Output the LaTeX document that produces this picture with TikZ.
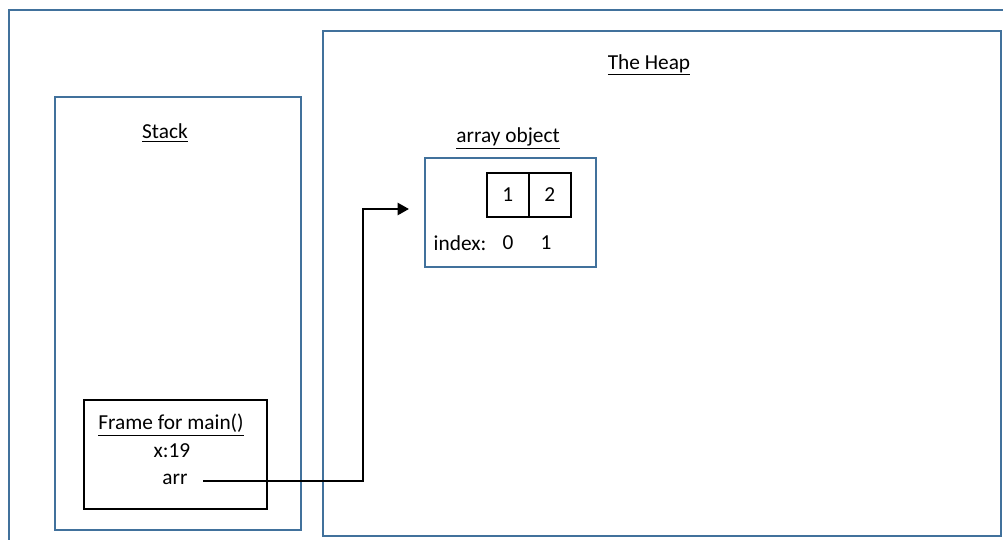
\documentclass[tikz,border=0pt]{standalone}
\usepackage{fontspec}
\setmainfont{Carlito}
\usetikzlibrary{arrows.meta}
\definecolor{boxblue}{RGB}{65,113,156}
\tikzset{
  bluebox/.style={draw=boxblue, line width=1.5pt, anchor=north west, inner sep=0pt},
  blackbox/.style={draw=black, line width=1.3pt, anchor=north west, inner sep=0pt},
  lbl/.style={font=\fontsize{16pt}{19pt}\selectfont, inner sep=0pt},
  conn/.style={line width=1.8pt, -{Triangle[length=8.5pt,width=9pt]}}
}
\begin{document}
\begin{tikzpicture}[x=0.75pt,y=-0.75pt]
\useasboundingbox (0,0) rectangle (1003,539);
\clip (0,0) rectangle (1003,539);
% outer frame (extends beyond the picture)
\node[bluebox, minimum width=1010*0.75pt, minimum height=545*0.75pt] (outer) at (8,9) {};
% stack
\node[bluebox, minimum width=246*0.75pt, minimum height=433*0.75pt] (stack) at (54,96) {};
\node[lbl] (stacklbl) at (165,133) {\underline{Stack}};
% heap
\node[bluebox, minimum width=678*0.75pt, minimum height=505*0.75pt] (heap) at (322,30) {};
\node[lbl] (heaplbl) at (649,65) {\underline{The Heap}};
% frame for main
\node[blackbox, minimum width=183*0.75pt, minimum height=109*0.75pt] (frame) at (83,399) {};
\node[lbl] (framelbl) at (171,425) {\underline{Frame for main()}};
\node[lbl] (xval) at (172,451) {x:19};
\node[lbl] (arr) at (175,479) {arr};
% array object
\node[lbl] (arrlbl) at (508,138) {\underline{array object}};
\node[bluebox, minimum width=171*0.75pt, minimum height=109*0.75pt] (arrbox) at (424,157) {};
\node[blackbox, minimum width=42*0.75pt, minimum height=44*0.75pt] (c0) at (486,172) {};
\node[blackbox, minimum width=42*0.75pt, minimum height=44*0.75pt] (c1) at (528,172) {};
\node[lbl] (v0) at (c0.center) {1};
\node[lbl] (v1) at (c1.center) {2};
\node[lbl] (idx) at (460,243) {index:};
\node[lbl] (i0) at (508,243) {0};
\node[lbl] (i1) at (546,243) {1};
% connector
\coordinate (start) at (203,481);
\coordinate (bend) at (363,209);
\coordinate (tip) at (409,209);
\draw[conn] (start) -| (bend) -- (tip);
\end{tikzpicture}
\end{document}
